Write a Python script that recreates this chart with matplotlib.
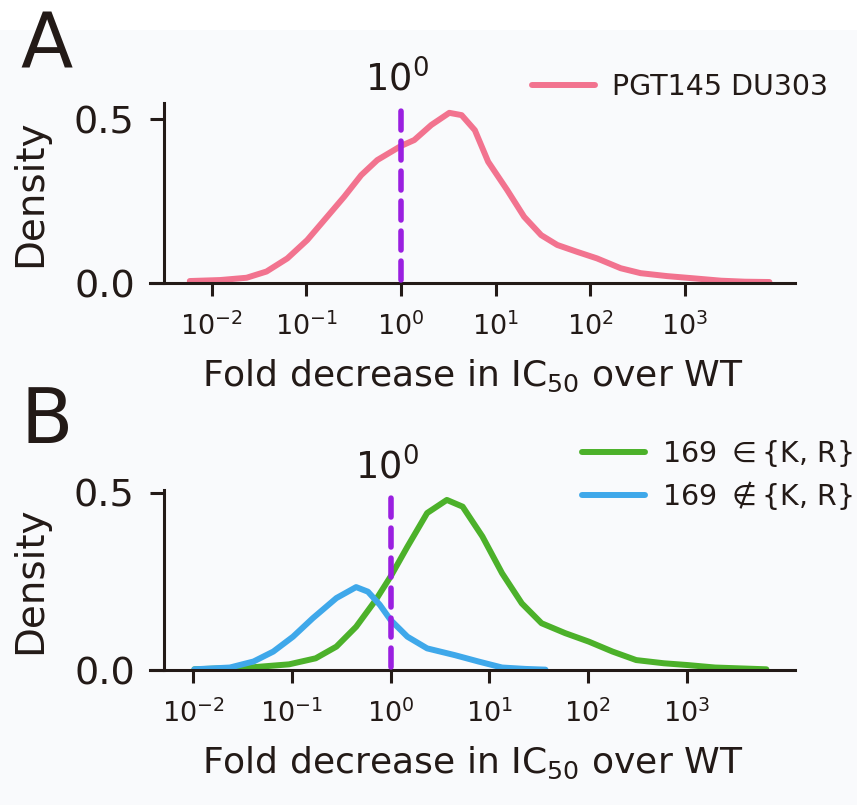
import matplotlib
matplotlib.use('Agg')
import matplotlib.pyplot as plt

# log10 of fold decrease and density
a_x = [-2.23, -1.91, -1.63, -1.42, -1.20, -0.99, -0.78, -0.60, -0.42, -0.25, 0.0, 0.14, 0.32,
       0.51, 0.64, 0.78, 0.92, 1.12, 1.30, 1.48, 1.65, 1.86, 2.07, 2.32, 2.53, 2.81, 3.10,
       3.38, 3.63, 3.89]
a_y = [0.006, 0.009, 0.016, 0.035, 0.075, 0.131, 0.202, 0.263, 0.329, 0.375, 0.418, 0.436, 0.482,
       0.519, 0.512, 0.466, 0.370, 0.284, 0.202, 0.146, 0.116, 0.095, 0.075, 0.045, 0.030, 0.021,
       0.014, 0.007, 0.004, 0.003]

green_x = [-1.99, -1.43, -1.03, -0.76, -0.55, -0.35, -0.15, 0.0, 0.17, 0.37, 0.57, 0.73, 0.93,
           1.13, 1.33, 1.53, 1.77, 2.01, 2.25, 2.49, 2.77, 3.01, 3.29, 3.81]
green_y = [0.002, 0.007, 0.016, 0.033, 0.066, 0.122, 0.198, 0.264, 0.348, 0.443, 0.48, 0.461, 0.377,
           0.273, 0.188, 0.132, 0.104, 0.080, 0.052, 0.028, 0.019, 0.014, 0.007, 0.002]

blue_x = [-1.99, -1.63, -1.39, -1.19, -0.99, -0.79, -0.55, -0.35, -0.23, -0.11, 0.0, 0.17, 0.37,
          0.65, 0.89, 1.13, 1.37, 1.57]
blue_y = [0.002, 0.007, 0.024, 0.052, 0.094, 0.146, 0.203, 0.234, 0.221, 0.184, 0.141, 0.094, 0.061,
          0.042, 0.024, 0.007, 0.003, 0.001]

xticks = [-2, -1, 0, 1, 2, 3]
xticklabels = ['$10^{-2}$', '$10^{-1}$', '$10^{0}$', '$10^{1}$', '$10^{2}$', '$10^{3}$']

TXT = '#231a17'
PINK = '#f2738f'
GREEN = '#4cb12a'
BLUE = '#3fa8ea'
PURPLE = '#9a1fe0'

plt.rcParams['font.family'] = ['DejaVu Sans']
plt.rcParams['mathtext.fontset'] = 'dejavusans'

fig = plt.figure(figsize=(8.57, 8.05), dpi=100, facecolor='#f9fafc')
fig.patches.append(plt.Rectangle((0, 1 - 30 / 805), 1, 30 / 805, transform=fig.transFigure,
                                 facecolor='white', edgecolor='none', zorder=-1))

axA = fig.add_axes([150 / 857, 1 - 283 / 805, 645 / 857, 180 / 805])
axB = fig.add_axes([150 / 857, 1 - 670 / 805, 645 / 857, 180 / 805])


def style(ax, xlim, ylim, vtop, legend_anchor):
    ax.set_facecolor('none')
    ax.set_xlim(*xlim)
    ax.set_ylim(*ylim)
    ax.spines['top'].set_visible(False)
    ax.spines['right'].set_visible(False)
    ax.spines['left'].set_position(('axes', 14 / 645))
    for s in ('left', 'bottom'):
        ax.spines[s].set_linewidth(2.2)
        ax.spines[s].set_color(TXT)
    ax.set_xticks(xticks)
    ax.set_xticklabels(xticklabels)
    ax.set_yticks([0.0, 0.5])
    ax.set_yticklabels(['0.0', '0.5'])
    ax.tick_params(axis='x', length=9, width=2.2, color=TXT, labelsize=19.5, labelcolor=TXT, pad=12)
    ax.tick_params(axis='y', length=10, width=2.2, color=TXT, labelsize=27.5, labelcolor=TXT, pad=11)
    ax.set_xlabel('Fold decrease in IC$_{50}$ over WT', fontsize=26, color=TXT, labelpad=12)
    ax.set_ylabel('Density', fontsize=28, color=TXT, labelpad=18)
    ax.plot([0, 0], [0.008, vtop], color=PURPLE, lw=4.0, dashes=(3.4, 2.0),
            dash_capstyle='round', zorder=3)
    ax.text(-0.04, vtop + 0.025, '$10^{0}$', ha='center', va='bottom', fontsize=26.5, color=TXT)
    leg = ax.legend(loc='center left', bbox_to_anchor=legend_anchor, frameon=False,
                    borderaxespad=0, borderpad=0, fontsize=20.5, handlelength=2.2,
                    handletextpad=0.62, labelspacing=0.38)
    for t in leg.get_texts():
        t.set_color(TXT)
    for ln in leg.get_lines():
        ln.set_linewidth(4.3)


axA.plot(a_x, a_y, color=PINK, lw=4.3, solid_capstyle='round', solid_joinstyle='round',
         label='PGT145 DU303')
style(axA, (-2.65, 4.16), (0, 0.549), 0.535, ((532 - 150) / 645, (283 - 87) / 180))

axB.plot(green_x, green_y, color=GREEN, lw=4.3, solid_capstyle='round', solid_joinstyle='round',
         label='169 $\\in${K, R}')
axB.plot(blue_x, blue_y, color=BLUE, lw=4.3, solid_capstyle='round', solid_joinstyle='round',
         label='169 $\\notin${K, R}')
style(axB, (-2.44, 4.10), (0, 0.508), 0.49, ((582 - 150) / 645, (670 - 475) / 180))

fig.text(20 / 857, 1 - 68 / 805, 'A', fontsize=55, color=TXT, ha='left', va='baseline')
fig.text(20 / 857, 1 - 443 / 805, 'B', fontsize=55, color=TXT, ha='left', va='baseline')

fig.savefig('out.png', dpi=100, facecolor=fig.get_facecolor())
